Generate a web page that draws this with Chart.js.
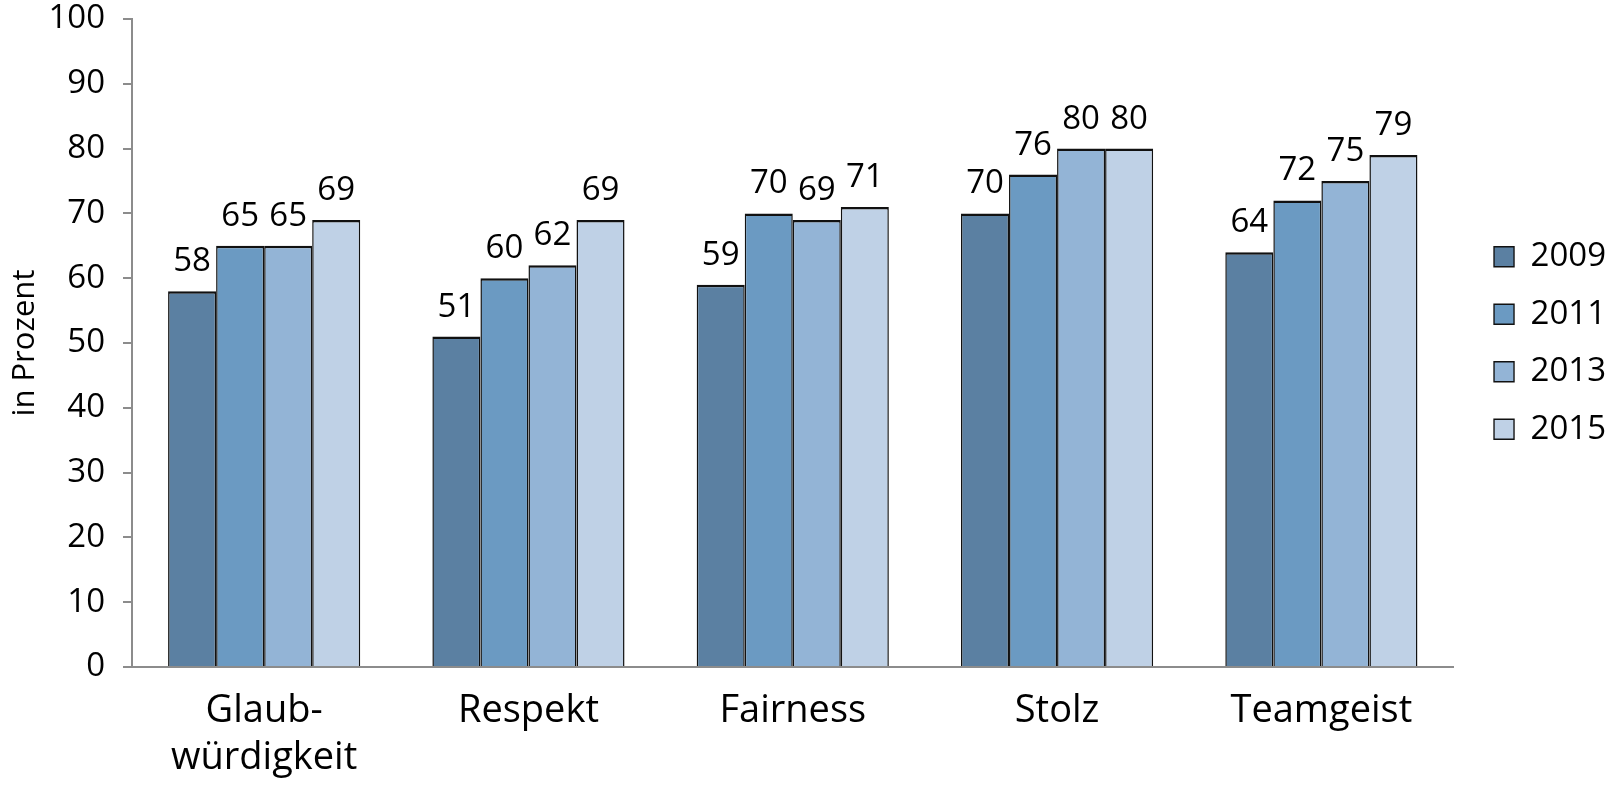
<!DOCTYPE html>
<html lang="de">
<head>
<meta charset="utf-8">
<title>Werte im Vergleich 2009–2015</title>
<script src="https://cdn.jsdelivr.net/npm/chart.js@4/dist/chart.umd.min.js"></script>
<style>
  html, body { margin: 0; padding: 0; background: #ffffff; }
  #wrap { width: 1624px; height: 785px; position: relative; }
</style>
</head>
<body>
<div id="wrap"><canvas id="chart" width="1624" height="785"></canvas></div>
<script>
// Categories and survey values (percent) per year
const categories = [['Glaub-', 'würdigkeit'], 'Respekt', 'Fairness', 'Stolz', 'Teamgeist'];
const years = ['2009', '2011', '2013', '2015'];
const values2009 = [58, 51, 59, 70, 64];
const values2011 = [65, 60, 70, 76, 72];
const values2013 = [65, 62, 69, 80, 75];
const values2015 = [69, 69, 71, 80, 79];
const yTicks = [0, 10, 20, 30, 40, 50, 60, 70, 80, 90, 100];

const seriesValues = [values2009, values2011, values2013, values2015];
const seriesColors = ['#5b80a2', '#6b9ac2', '#93b4d6', '#bfd1e6'];

const FONT = "'Open Sans', 'Noto Sans', sans-serif";
const AXIS_GREY = '#8c8c8c';

// Value labels above each bar
const valueLabels = {
  id: 'valueLabels',
  afterDatasetsDraw(chart) {
    const ctx = chart.ctx;
    ctx.save();
    ctx.font = `33px ${FONT}`;
    ctx.fillStyle = '#000000';
    ctx.textAlign = 'center';
    ctx.textBaseline = 'alphabetic';
    chart.data.datasets.forEach((ds, i) => {
      const meta = chart.getDatasetMeta(i);
      meta.data.forEach((bar, j) => {
        ctx.fillText(String(ds.data[j]), bar.x, bar.y - 20);
      });
    });
    ctx.restore();
  }
};

// Leave a gap between the plot and the legend column
const legendGap = {
  id: 'legendGap',
  afterLayout(chart) {
    if (chart.legend) {
      chart.legend.left += 16;
      chart.legend.right += 16;
    }
  }
};

new Chart(document.getElementById('chart'), {
  type: 'bar',
  data: {
    labels: categories,
    datasets: years.map((y, i) => ({
      label: y,
      data: seriesValues[i],
      backgroundColor: seriesColors[i],
      borderColor: '#111111',
      borderWidth: { top: 2.5, left: 1.5, right: 1.5, bottom: 0 },
      borderSkipped: false,
      categoryPercentage: 0.727,
      barPercentage: 1.0
    }))
  },
  options: {
    responsive: false,
    animation: false,
    devicePixelRatio: 1,
    layout: { padding: { top: 0, right: 24, bottom: 0, left: 0 } },
    plugins: {
      title: { display: false },
      tooltip: { enabled: false },
      legend: {
        position: 'right',
        align: 'center',
        fullSize: false,
        labels: {
          boxWidth: 20,
          boxHeight: 20,
          padding: 24.5,
          color: '#000000',
          font: { family: FONT, size: 33 }
        }
      }
    },
    scales: {
      x: {
        z: 1,
        grid: { display: false, drawTicks: false },
        border: { display: true, color: AXIS_GREY, width: 2 },
        ticks: {
          color: '#000000',
          font: { family: FONT, size: 38, lineHeight: 1.25 },
          padding: 20,
          autoSkip: false,
          maxRotation: 0,
          minRotation: 0
        },
        afterFit(scale) { scale.height = 118; }
      },
      y: {
        min: 0,
        max: 100,
        afterBuildTicks(scale) { scale.ticks = yTicks.map(v => ({ value: v })); },
        grid: {
          drawOnChartArea: false,
          drawTicks: true,
          tickLength: 9,
          color: AXIS_GREY,
          lineWidth: 2
        },
        border: { display: true, color: AXIS_GREY, width: 2 },
        ticks: {
          color: '#000000',
          font: { family: FONT, size: 33, lineHeight: 1.15 },
          padding: 18
        },
        title: {
          display: true,
          text: 'in Prozent',
          color: '#000000',
          font: { family: FONT, size: 31 },
          padding: { top: 7, bottom: 0 }
        },
        afterFit(scale) {
          scale.width = 132;
          // room above the top tick label only
          scale.paddingTop = 19;
        }
      }
    }
  },
  plugins: [valueLabels, legendGap]
});
</script>
</body>
</html>
